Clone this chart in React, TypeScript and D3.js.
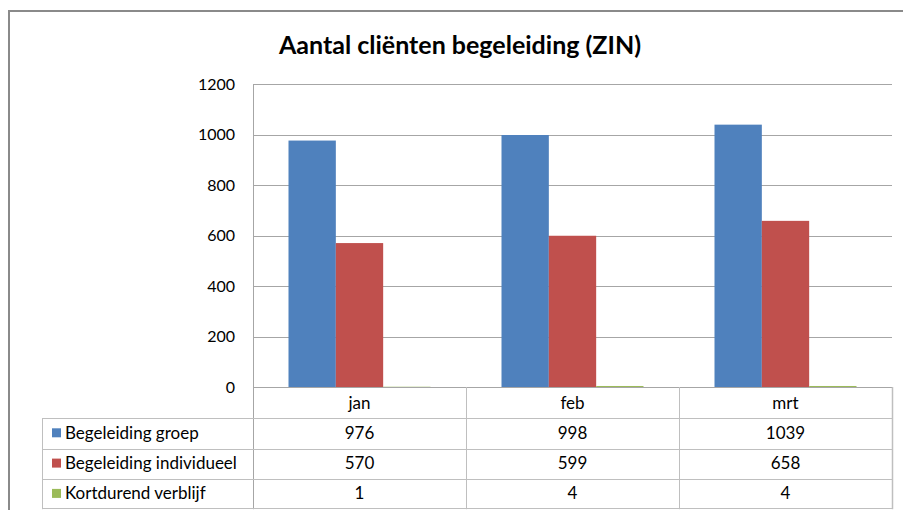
import React from 'react';
import * as d3 from 'd3';

const categories = ['jan', 'feb', 'mrt'];
const seriesNames = ['Begeleiding groep', 'Begeleiding individueel', 'Kortdurend verblijf'];
const groepValues = [976, 998, 1039];
const individueelValues = [570, 599, 658];
const kortdurendValues = [1, 4, 4];
const seriesColors = ['#4F81BD', '#C0504D', '#9BBB59'];
const yTicks = [0, 200, 400, 600, 800, 1000, 1200];

const seriesValues = [groepValues, individueelValues, kortdurendValues];

export default function App() {
  const width = 903;
  const height = 510;
  const plot = { left: 253, right: 892, top: 84, bottom: 387 };
  const tableLeft = 42;
  const rowH = 30.3;
  const font = 'Lato, Carlito, Calibri, sans-serif';

  const x = d3.scaleBand<string>().domain(categories).range([plot.left, plot.right]);
  const xInner = d3
    .scaleBand<string>()
    .domain(seriesNames)
    .range([0, x.bandwidth()])
    .paddingInner(0)
    .paddingOuter(0.75);
  const y = d3.scaleLinear().domain([0, 1200]).range([plot.bottom, plot.top]);

  const headerBottom = plot.bottom + rowH + 1;
  const rowTop = (i: number) => headerBottom + i * rowH;
  const tableBottom = rowTop(seriesNames.length);

  return (
    <svg
      width={width}
      height={height}
      style={{ position: 'absolute', left: 0, top: 0, background: '#fff' }}
      fontFamily={font}
    >
      {/* chart frame */}
      <path d={`M9,${height + 5} V11 H${width + 5}`} fill="none" stroke="#8a8a8a" strokeWidth={2} />

      <text x={460} y={54} textAnchor="middle" fontSize={25} fontWeight="bold" fill="#000">
        Aantal cliënten begeleiding (ZIN)
      </text>

      {/* gridlines */}
      {yTicks.map(t => (
        <line key={t} x1={plot.left} x2={plot.right} y1={Math.round(y(t)) + 0.5} y2={Math.round(y(t)) + 0.5} stroke="#a6a6a6" />
      ))}
      {yTicks.map(t => (
        <text key={'l' + t} x={235} y={y(t) + 5.5} textAnchor="end" fontSize={16} fill="#000">
          {t}
        </text>
      ))}

      {/* bars */}
      {categories.map((c, ci) => (
        <g key={c} transform={`translate(${x(c)},0)`}>
          {seriesNames.map((s, si) => {
            const v = seriesValues[si][ci];
            const top = y(v);
            return (
              <rect
                key={s}
                x={xInner(s)}
                y={top}
                width={xInner.bandwidth()}
                height={Math.max(plot.bottom - top, 1)}
                fill={seriesColors[si]}
              />
            );
          })}
        </g>
      ))}

      {/* axis line & zero line */}
      <line x1={plot.left} x2={plot.right} y1={plot.bottom + 0.5} y2={plot.bottom + 0.5} stroke="#a6a6a6" />
      <line x1={plot.left + 0.5} x2={plot.left + 0.5} y1={plot.top} y2={tableBottom} stroke="#a6a6a6" />

      {/* data table */}
      <g stroke="#bfbfbf" fill="none">
        <line x1={plot.right + 0.5} x2={plot.right + 0.5} y1={plot.bottom} y2={tableBottom} strokeWidth={1.5} />
        <line x1={tableLeft + 0.5} x2={tableLeft + 0.5} y1={headerBottom} y2={tableBottom} />
        {categories.slice(1).map(c => (
          <line key={c} x1={Math.round(x(c)!) + 0.5} x2={Math.round(x(c)!) + 0.5} y1={plot.bottom} y2={tableBottom} />
        ))}
        {seriesNames.map((s, i) => (
          <line key={s} x1={tableLeft} x2={plot.right} y1={Math.round(rowTop(i)) + 0.5} y2={Math.round(rowTop(i)) + 0.5} />
        ))}
        <line x1={tableLeft} x2={plot.right} y1={Math.round(tableBottom) - 0.5} y2={Math.round(tableBottom) - 0.5} />
      </g>

      {categories.map(c => (
        <text key={c} x={x(c)! + x.bandwidth() / 2} y={plot.bottom + 22} textAnchor="middle" fontSize={17} fill="#000">
          {c}
        </text>
      ))}

      {seriesNames.map((s, si) => (
        <g key={s}>
          <rect x={52} y={rowTop(si) + 10} width={9} height={9} fill={seriesColors[si]} />
          <text x={65} y={rowTop(si) + 20.5} fontSize={17} fill="#000">
            {s}
          </text>
          {categories.map((c, ci) => (
            <text key={c} x={x(c)! + x.bandwidth() / 2} y={rowTop(si) + 20.5} textAnchor="middle" fontSize={17} fill="#000">
              {seriesValues[si][ci]}
            </text>
          ))}
        </g>
      ))}
    </svg>
  );
}
